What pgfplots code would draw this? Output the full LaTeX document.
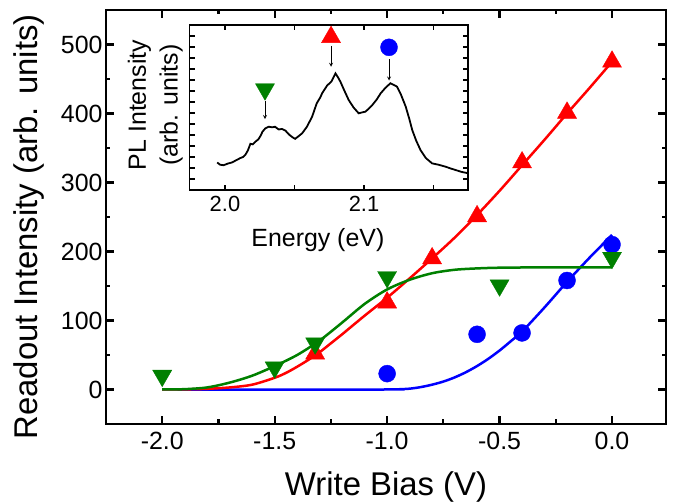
\documentclass[border=0pt]{standalone}
\usepackage{fontspec}
\setmainfont{Liberation Sans}
\usepackage{pgfplots}
\pgfplotsset{compat=1.18}
\definecolor{dkgreen}{RGB}{0,128,0}
\definecolor{pblue}{RGB}{0,0,255}
\definecolor{pred}{RGB}{255,0,0}
\begin{document}
\begin{tikzpicture}
\begin{axis}[
  at={(0,0)}, anchor=south west,
  width=560bp, height=414bp, scale only axis,
  xmin=-2.25, xmax=0.24, ymin=-50, ymax=550,
  xtick={-2,-1.5,-1,-0.5,0}, xticklabels={-2.0,-1.5,-1.0,-0.5,0.0},
  minor x tick num=1,
  ytick={0,100,200,300,400,500}, yticklabels={0,100,200,300,400,500},
  minor y tick num=1,
  tick align=inside, major tick length=8bp, minor tick length=4.5bp,
  every tick/.style={line width=2.2bp, black},
  tick label style={font=\fontsize{25}{29}\selectfont},
  xticklabel style={yshift=-5bp},
  label style={font=\fontsize{33}{40}\selectfont},
  xlabel={Write Bias (V)},
  ylabel={Readout Intensity (arb. units)},
  xlabel style={at={(axis description cs:0.5,-0.172)}, anchor=base, inner sep=0pt},
  ylabel style={at={(axis description cs:-0.1232,0.476)}, anchor=base, inner sep=0pt},
  clip=false,
]
\addplot[pblue, line width=2.5bp, smooth] coordinates {
(-2,0)(-1.0,0)(-0.95,0.3)(-0.9,1.2)(-0.85,3.5)(-0.8,7)(-0.75,11.5)(-0.7,17.5)(-0.65,25)(-0.6,34)(-0.55,44.5)(-0.5,56.5)(-0.45,70)(-0.4,84)(-0.3,119)(-0.2,156)(-0.1,191)(0,224)};
\addplot[pred, line width=2.5bp, smooth] coordinates {
(-2,0)(-1.9,0.2)(-1.8,1)(-1.7,3)(-1.6,7)(-1.5,17)(-1.45,24)(-1.4,33)(-1.35,43)(-1.3,54)(-1.25,67)(-1.2,80)(-1.1,107)(-1.0,133)(-0.9,161)(-0.8,190)(-0.7,220)(-0.6,253)(-0.5,288)(-0.4,325)(-0.3,362)(-0.2,400)(-0.1,437)(0,475)};
\addplot[dkgreen, line width=2.5bp, smooth] coordinates {
(-2,0)(-1.9,0.5)(-1.8,3)(-1.7,10)(-1.6,20)(-1.5,34)(-1.4,50)(-1.3,71)(-1.2,97)(-1.1,124)(-1.0,145)(-0.9,159)(-0.8,168.5)(-0.7,173.5)(-0.6,175.5)(-0.5,176.5)(-0.3,177)(0,177)};
\addplot[only marks, mark=*, mark size=8.5bp, pblue, mark options={draw=pblue, fill=pblue}] coordinates {
(-1.0,23)(-0.6,80)(-0.4,82)(-0.2,158)(0,210)};
\addplot[only marks, mark=triangle*, mark size=11bp, pred, mark options={draw=pred, fill=pred}] coordinates {
(-1.32,52)(-1.0,126)(-0.8,190)(-0.6,251)(-0.4,329)(-0.2,401)(0,475)};
\addplot[only marks, mark=triangle*, mark size=11bp, dkgreen, mark options={draw=dkgreen, fill=dkgreen, rotate=180}] coordinates {
(-2.0,20)(-1.5,32)(-1.32,67)(-1.0,163)(-0.5,151)(0,191)};
\draw[line width=2.8bp, black] (rel axis cs:0,0) rectangle (rel axis cs:1,1);
\end{axis}
\begin{axis}[
  at={(83.5bp,234bp)}, anchor=south west,
  width=278.5bp, height=165bp, scale only axis,
  xmin=1.9745, xmax=2.1748, ymin=0, ymax=15,
  xtick={2.0,2.1}, xticklabels={2.0,2.1},
  minor xtick={2.05,2.15},
  ytick={1,2,3,4,5,6,7,8,9,10,11,12,13,14}, yticklabel=\empty,
  tick align=inside, major tick length=5bp, minor tick length=5bp,
  every tick/.style={line width=1.2bp, black},
  tick label style={font=\fontsize{22}{26}\selectfont},
  xticklabel style={yshift=-3bp},
  label style={font=\fontsize{25}{32}\selectfont},
  xlabel={Energy (eV)},
  ylabel={PL Intensity\\(arb. units)},
  xlabel style={at={(axis description cs:0.461,-0.345)}, anchor=base, inner sep=0pt},
  ylabel style={at={(axis description cs:-0.0233,0.515)}, anchor=south, align=center, inner sep=0pt},
  axis background/.style={fill=white},
  clip=false,
]
\addplot[black, line width=1.8bp] coordinates {
(1.9944,2.5)(1.9965,2.3)(1.999,2.25)(2.002,2.4)(2.005,2.5)(2.008,2.7)(2.011,2.9)(2.013,3.0)(2.0147,3.2)(2.0165,3.6)(2.0183,4.2)(2.020,4.15)(2.022,4.4)(2.024,4.6)(2.0255,4.9)(2.027,5.3)(2.029,5.6)(2.0315,5.75)(2.034,5.7)(2.036,5.75)(2.0387,5.5)(2.041,5.55)(2.0435,5.4)(2.046,5.05)(2.0485,4.8)(2.0505,4.65)(2.0525,4.85)(2.0555,5.15)(2.059,5.76)(2.0627,6.67)(2.066,7.88)(2.0685,8.4)(2.0699,8.8)(2.0735,9.5)(2.0765,9.85)(2.0795,10.6)(2.0815,10.2)(2.083,9.85)(2.086,9.0)(2.089,8.18)(2.0925,7.5)(2.0962,6.97)(2.0985,7.05)(2.101,7.12)(2.1035,7.4)(2.106,7.73)(2.109,8.2)(2.112,8.79)(2.1155,9.3)(2.119,9.7)(2.1215,9.55)(2.1238,9.39)(2.1265,8.7)(2.13,7.58)(2.1325,6.5)(2.1347,5.45)(2.1375,4.5)(2.1406,3.64)(2.1445,2.9)(2.149,2.42)(2.1535,2.3)(2.1586,2.12)(2.1625,1.95)(2.1658,1.82)(2.170,1.65)(2.175,1.52)};
\addplot[-stealth, black, line width=0.8bp] coordinates {(2.0288,8.1)(2.0288,6.45)};
\addplot[-stealth, black, line width=0.8bp] coordinates {(2.0763,13.1)(2.0763,11.2)};
\addplot[-stealth, black, line width=0.8bp] coordinates {(2.118,11.9)(2.118,9.95)};
\addplot[only marks, mark=triangle*, mark size=11bp, dkgreen, mark options={draw=dkgreen, fill=dkgreen, rotate=180}] coordinates {(2.0288,9.16)};
\addplot[only marks, mark=triangle*, mark size=11bp, pred, mark options={draw=pred, fill=pred}] coordinates {(2.0763,13.9)};
\addplot[only marks, mark=*, mark size=8.5bp, pblue, mark options={draw=pblue, fill=pblue}] coordinates {(2.118,12.97)};
\draw[line width=1.6bp, black] (rel axis cs:0,0) rectangle (rel axis cs:1,1);
\end{axis}
\path (-106bp,-78bp) rectangle (570bp,424bp);
\end{tikzpicture}
\end{document}
